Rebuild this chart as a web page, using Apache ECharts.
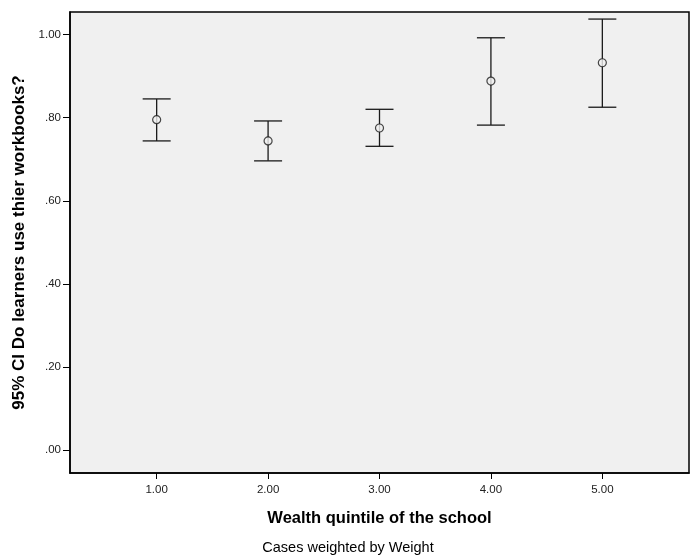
<!DOCTYPE html>
<html>
<head>
<meta charset="utf-8">
<script src="https://cdn.jsdelivr.net/npm/echarts@6/dist/echarts.min.js"></script>
<style>
  html, body { margin: 0; padding: 0; background: #fff; }
  #chart { width: 696px; height: 559px; }
</style>
</head>
<body>
<div id="chart"></div>
<script>
// Wealth quintile groups and the 95% CI of "Do learners use thier workbooks?"
const quintiles = [1, 2, 3, 4, 5];
const means = [0.795, 0.744, 0.775, 0.888, 0.932];
const lowerCI = [0.744, 0.696, 0.731, 0.782, 0.825];
const upperCI = [0.845, 0.792, 0.820, 0.992, 1.037];
const yTicks = [0, 0.2, 0.4, 0.6, 0.8, 1.0];

const FONT = '"Liberation Sans", Arial, sans-serif';

const chart = echarts.init(document.getElementById('chart'), null, { renderer: 'canvas' });

const fmt = v => {
  const s = Number(v).toFixed(2);
  return s.startsWith('0') ? s.slice(1) : s;
};

chart.setOption({
  animation: false,
  backgroundColor: '#ffffff',
  grid: {
    left: 70, right: 7, top: 12, bottom: 86,
    show: true,
    backgroundColor: '#f0f0f0',
    borderColor: '#000',
    borderWidth: 1.5
  },
  xAxis: {
    type: 'value',
    min: 0.2222,
    max: 5.7778,
    name: 'Wealth quintile of the school',
    nameLocation: 'middle',
    nameGap: 37,
    nameTextStyle: { fontFamily: FONT, fontSize: 16.5, fontWeight: 'bold', color: '#000' },
    axisLine: { show: true, onZero: false, lineStyle: { color: '#000', width: 1.5 } },
    axisTick: { show: true, length: 6, customValues: quintiles, lineStyle: { color: '#000' } },
    axisLabel: {
      customValues: quintiles,
      formatter: v => Number(v).toFixed(2),
      fontFamily: FONT, fontSize: 11.5, color: '#222', margin: 11
    },
    splitLine: { show: false }
  },
  yAxis: {
    type: 'value',
    min: -0.0546,
    max: 1.054,
    name: '95% CI Do learners use thier workbooks?',
    nameLocation: 'middle',
    nameGap: 42,
    nameTextStyle: { fontFamily: FONT, fontSize: 17, fontWeight: 'bold', color: '#000' },
    axisLine: { show: true, onZero: false, lineStyle: { color: '#000', width: 1.5 } },
    axisTick: { show: true, length: 7, customValues: yTicks, lineStyle: { color: '#000' } },
    axisLabel: {
      customValues: yTicks,
      formatter: fmt,
      fontFamily: FONT, fontSize: 11.5, color: '#222', margin: 9
    },
    splitLine: { show: false }
  },
  graphic: [{
    type: 'text',
    left: 'center',
    top: 540,
    style: { text: 'Cases weighted by Weight', font: '14.5px ' + FONT, fill: '#000' }
  }],
  series: [
    {
      type: 'custom',
      data: quintiles.map((q, i) => [q, lowerCI[i], upperCI[i]]),
      renderItem: (params, api) => {
        const x = api.value(0);
        const lo = api.coord([x, api.value(1)]);
        const hi = api.coord([x, api.value(2)]);
        const half = 14;
        const style = { stroke: '#1a1a1a', lineWidth: 1.3, fill: null };
        return {
          type: 'group',
          children: [
            { type: 'line', shape: { x1: lo[0], y1: lo[1], x2: hi[0], y2: hi[1] }, style },
            { type: 'line', shape: { x1: hi[0] - half, y1: hi[1], x2: hi[0] + half, y2: hi[1] }, style },
            { type: 'line', shape: { x1: lo[0] - half, y1: lo[1], x2: lo[0] + half, y2: lo[1] }, style }
          ]
        };
      },
      z: 2
    },
    {
      type: 'scatter',
      data: quintiles.map((q, i) => [q, means[i]]),
      symbol: 'circle',
      symbolSize: 8,
      itemStyle: { color: '#f0f0f0', borderColor: '#1a1a1a', borderWidth: 1.2 },
      z: 3
    }
  ]
});
</script>
</body>
</html>
